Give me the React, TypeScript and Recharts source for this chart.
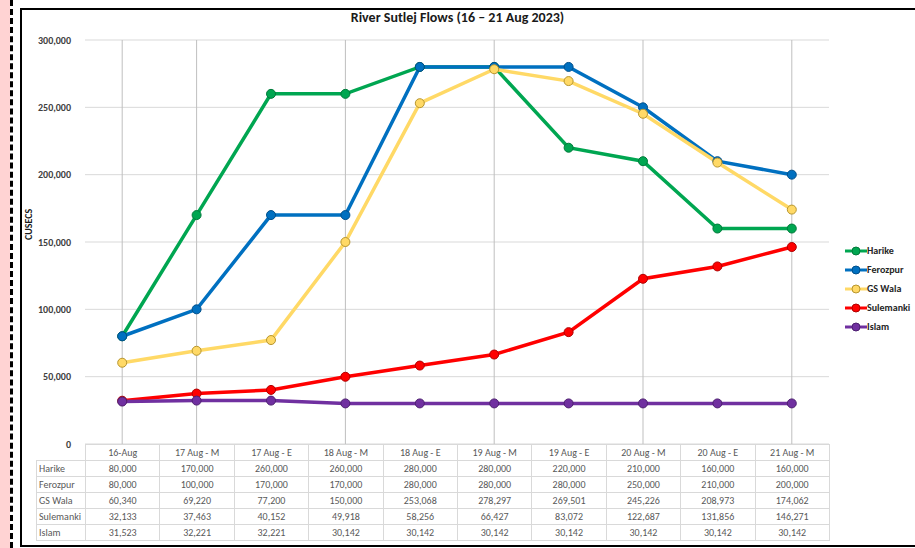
import { LineChart, Line, XAxis, YAxis, CartesianGrid } from "recharts";

const categories = [
  "16-Aug",
  "17 Aug - M",
  "17 Aug - E",
  "18 Aug - M",
  "18 Aug - E",
  "19 Aug - M",
  "19 Aug - E",
  "20 Aug - M",
  "20 Aug - E",
  "21 Aug - M",
];

const harike = [80000, 170000, 260000, 260000, 280000, 280000, 220000, 210000, 160000, 160000];
const ferozpur = [80000, 100000, 170000, 170000, 280000, 280000, 280000, 250000, 210000, 200000];
const gsWala = [60340, 69220, 77200, 150000, 253068, 278297, 269501, 245226, 208973, 174062];
const sulemanki = [32133, 37463, 40152, 49918, 58256, 66427, 83072, 122687, 131856, 146271];
const islam = [31523, 32221, 32221, 30142, 30142, 30142, 30142, 30142, 30142, 30142];

const yTicks = [0, 50000, 100000, 150000, 200000, 250000, 300000];

const series = [
  { key: "Harike", values: harike, color: "#00a651", dot: "#007a3a" },
  { key: "Ferozpur", values: ferozpur, color: "#0070c0", dot: "#004f8a" },
  { key: "GS Wala", values: gsWala, color: "#ffd966", dot: "#b8962e" },
  { key: "Sulemanki", values: sulemanki, color: "#ff0000", dot: "#b00000" },
  { key: "Islam", values: islam, color: "#7030a0", dot: "#4d1f70" },
];

const data = categories.map((c, i) => {
  const row: Record<string, string | number> = { name: c };
  series.forEach((s) => (row[s.key] = s.values[i]));
  return row;
});

const font = "Carlito, 'Liberation Sans', Arial, sans-serif";
const fmt = (v: number) => v.toLocaleString("en-US");

function LegendBox() {
  return (
    <div style={{ fontFamily: font, fontSize: 10, fontWeight: 700, color: "#262626" }}>
      {series.map((s) => (
        <div key={s.key} style={{ display: "flex", alignItems: "center", height: 19 }}>
          <svg width={22} height={10}>
            <line x1={0} y1={5} x2={22} y2={5} stroke={s.color} strokeWidth={3} />
            <circle cx={11} cy={5} r={4} fill={s.color} stroke={s.dot} strokeWidth={1} />
          </svg>
          <span>{s.key}</span>
        </div>
      ))}
    </div>
  );
}

export default function App() {
  const colW = 74.4;
  const cell = {
    border: "1px solid #d9d9d9",
    textAlign: "center" as const,
    height: 15,
    padding: 0,
    overflow: "hidden",
    whiteSpace: "nowrap" as const,
  };
  return (
    <div style={{ position: "absolute", left: 0, top: 0, width: 915, height: 548, background: "#fff", overflow: "hidden", fontFamily: font }}>
      <div style={{ position: "absolute", left: 0, top: 0, width: 10, height: 548, background: "#ffd3d3" }} />
      <div style={{ position: "absolute", left: 10, top: 0, width: 0, height: 548, borderLeft: "3px dashed #000" }} />
      <div style={{ position: "absolute", left: 20, top: 8, width: 910, height: 535, border: "2px solid #000" }} />
      <div style={{ position: "absolute", left: 0, top: 9, width: 915, textAlign: "center", fontSize: 14, fontWeight: 700, color: "#1a1a1a" }}>
        River Sutlej Flows (16 – 21 Aug 2023)
      </div>
      <div style={{ position: "absolute", left: 22, top: 225, transform: "rotate(-90deg)", transformOrigin: "left top", fontSize: 10, fontWeight: 700, color: "#1a1a1a" }}>
        <span style={{ position: "relative", left: -15 }}>CUSECS</span>
      </div>
      <div style={{ position: "absolute", left: 0, top: 0 }}>
        <LineChart width={915} height={548} data={data} margin={{ top: 40, right: 86, left: 25, bottom: 104 }}>
          <CartesianGrid stroke="#d9d9d9" vertical={false} syncWithTicks />
          <CartesianGrid stroke="#bfbfbf" horizontal={false} syncWithTicks />
          <XAxis dataKey="name" scale="band" hide />
          <YAxis
            width={60}
            domain={[0, 300000]}
            ticks={yTicks}
            tickFormatter={fmt}
            axisLine={false}
            tickLine={false}
            tick={{ fontSize: 10, fontWeight: 700, fill: "#404040", fontFamily: font }}
            tickMargin={8}
          />
          {series.map((s) => (
            <Line
              key={s.key}
              dataKey={s.key}
              stroke={s.color}
              strokeWidth={3.5}
              dot={{ r: 4.5, fill: s.color, stroke: s.dot, strokeWidth: 1 }}
              isAnimationActive={false}
            />
          ))}
        </LineChart>
      </div>
      <div style={{ position: "absolute", left: 845, top: 241, width: 72 }}>
        <LegendBox />
      </div>
      <table
        style={{
          position: "absolute",
          left: 36,
          top: 444,
          width: 49 + colW * 10,
          borderCollapse: "collapse",
          tableLayout: "fixed",
          fontSize: 10,
          color: "#595959",
          fontFamily: font,
        }}
      >
        <colgroup>
          <col style={{ width: 49 }} />
          {categories.map((c) => (
            <col key={c} style={{ width: colW }} />
          ))}
        </colgroup>
        <tbody>
          <tr>
            <td style={{ padding: 0 }} />
            {categories.map((c) => (
              <td key={c} style={cell}>{c}</td>
            ))}
          </tr>
          {series.map((s) => (
            <tr key={s.key}>
              <td style={{ ...cell, textAlign: "left", paddingLeft: 2 }}>{s.key}</td>
              {s.values.map((v, i) => (
                <td key={i} style={cell}>{fmt(v)}</td>
              ))}
            </tr>
          ))}
        </tbody>
      </table>
    </div>
  );
}
